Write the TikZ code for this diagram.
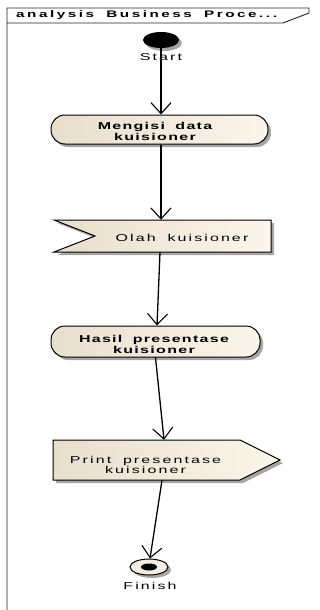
\documentclass[tikz,border=0pt]{standalone}
\usepackage{fontspec}
\setmainfont{Liberation Sans}
\newfontfamily\eafam[FakeStretch=1.6,WordSpace=1.8]{Liberation Sans}
\usetikzlibrary{arrows.meta,shapes.geometric,shadows}
\definecolor{beigeL}{RGB}{232,222,204}
\definecolor{beigeR}{RGB}{251,246,236}
\definecolor{cream}{RGB}{245,238,224}
\tikzset{
  regtxt/.style={inner sep=0pt, align=center, font=\eafam\fontsize{10}{10}\selectfont\addfontfeature{LetterSpace=21}},
  boldtxt/.style={inner sep=0pt, align=center, font=\eafam\bfseries\fontsize{10}{11}\selectfont\addfontfeature{LetterSpace=13}},
  headtxt/.style={inner sep=0pt, anchor=west, font=\eafam\bfseries\fontsize{9.5}{10}\selectfont\addfontfeature{LetterSpace=27}},
  eashadow/.style={drop shadow={shadow xshift=3pt, shadow yshift=-3pt, fill=black, opacity=0.35}},
  stad/.style={draw=black, line width=1pt, rounded corners=14pt, left color=beigeL, right color=beigeR, inner sep=0pt, eashadow},
  sigbox/.style={draw=black, line width=1pt, left color=beigeL, right color=beigeR},
  sigshadow/.style={fill=black, opacity=0.35},
  anchorbox/.style={inner sep=0pt, draw=none},
  conn/.style={line width=1.3pt, -{Straight Barb[length=11pt,width=20pt,line width=1.1pt]}},
  frameline/.style={draw=black!85, line width=0.9pt}
}
\begin{document}
\begin{tikzpicture}[x=1pt,y=-1pt]
\useasboundingbox (0,0) rectangle (320,610);
% frame and header tab
\draw[frameline] (7,610) -- (7,8) -- (309,8) -- (309,13) -- (283,23) -- (7,23);
\node[headtxt] (ht) at (16,15.5) {analysis Business Proce...};
% start
\node[ellipse, fill=black, minimum width=36pt, minimum height=16pt, inner sep=0pt, eashadow] (s) at (161,40) {};
\node[regtxt] (sl) at (161,57) {Start};
% Mengisi data kuisioner
\node[stad, minimum width=217pt, minimum height=29pt] (m) at (159.5,129.5) {};
\node[boldtxt] (mt) at (155,131.5) {Mengisi data\\kuisioner};
% Olah kuisioner (signal receipt)
\fill[sigshadow] (57,223) -- (274,223) -- (274,255) -- (57,255) -- (98,239) -- cycle;
\path[sigbox] (54,220) -- (271,220) -- (271,252) -- (54,252) -- (95,236) -- cycle;
\node[anchorbox, minimum width=217pt, minimum height=32pt] (o) at (162.5,236) {};
\node[regtxt] (ot) at (182,237.5) {Olah kuisioner};
% Hasil presentase kuisioner
\node[stad, minimum width=209pt, minimum height=31pt] (h) at (155.5,341.5) {};
\node[boldtxt] (htx) at (154,344) {Hasil presentase\\kuisioner};
% Print presentase kuisioner (send signal)
\fill[sigshadow] (56,443) -- (243,443) -- (283,463) -- (243,483) -- (56,483) -- cycle;
\path[sigbox] (53,440) -- (240,440) -- (280,460) -- (240,480) -- (53,480) -- cycle;
\node[anchorbox, minimum width=227pt, minimum height=40pt] (p) at (166.5,460) {};
\node[regtxt] (pt) at (145.5,465) {Print presentase\\kuisioner};
% finish
\node[ellipse, draw=black, line width=1pt, fill=cream, minimum width=38pt, minimum height=16pt, inner sep=0pt, eashadow] (f) at (149,567) {};
\node[ellipse, fill=black, minimum width=16pt, minimum height=7pt, inner sep=0pt] (fi) at (f.center) {};
\node[regtxt] (fl) at (150,586) {Finish};
% connectors
\draw[conn] (s.south) -- (s.south |- m.north);
\draw[conn] (s.south |- m.south) -- (s.south |- o.north);
\draw[conn] ([xshift=-2.5pt]o.south) -- ([xshift=1.5pt]h.north);
\draw[conn] (h.south) -- ([xshift=-2.5pt]p.north);
\draw[conn] ([xshift=-4.5pt]p.south) -- ([xshift=1pt]f.north);
\end{tikzpicture}
\end{document}
